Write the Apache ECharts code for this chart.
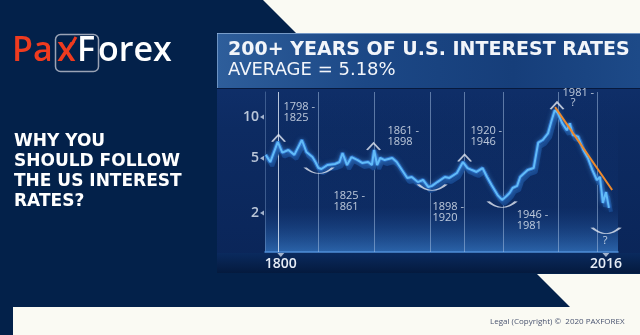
<!DOCTYPE html>
<html><head><meta charset="utf-8">
<script src="https://cdn.jsdelivr.net/npm/echarts@6/dist/echarts.min.js"></script>
<style>html,body{margin:0;padding:0;background:#03214a;}#c{width:640px;height:335px;}</style>
</head><body><div id="c"></div>
<script>
// ---- data ----
const years = [1790,1793,1798,1801,1805,1809,1814,1817,1821,1823,1825,1827,1831,1836,1839,1841,1844,1847,1851,1854,1858,1860.5,1862,1864,1866,1869,1874,1877,1880.5,1884,1887,1891,1894.5,1898,1900.5,1904,1909,1912,1917,1921,1924,1927,1930,1934,1937,1940,1944,1947,1950,1952,1954,1957,1959,1964,1968,1971,1974,1977.5,1980,1982,1984,1987,1990,1992,1994,1997.5,2001,2004,2007,2010,2012,2014,2016,2018];
const rates = [5.3,4.7,6.6,5.5,5.75,5.3,6.8,5.56,5.11,4.7,4.25,4.18,4.47,4.55,4.7,5.47,4.47,5.11,4.86,4.63,4.7,4.47,5.75,4.47,5.03,4.86,5.03,4.7,4.11,3.6,3.66,3.36,3.48,3.09,3.15,3.36,3.66,3.6,3.91,4.7,4.25,4.11,3.98,4.25,3.66,3.2,2.7,2.49,2.66,2.8,3.04,3.15,3.66,4.11,4.25,6.5,6.8,7.6,9.5,11.2,10.7,9.0,8.0,9.0,7.4,7.2,5.75,5.03,4.11,3.48,3.66,2.37,2.84,2.18];
const trendYears = [1982.2, 2020.1];
const trendRates = [11.8, 2.94];
const periodBoundaries = [1798, 1825, 1862, 1899, 1922, 1948, 1984, 2010];
const xTickLabels = [1800, 2016];
const yTickLabels = [10, 5, 2];
const periodLabels = ['1798 -\n1825', '1825 -\n1861', '1861 -\n1898', '1898 -\n1920', '1920 -\n1946', '1946 -\n1981', '1981 -'];
const periodLabelYears = [1802.1, 1835.3, 1871.2, 1901.1, 1926.4, 1957.0, 1987.5];
const periodLabelRates = [12.6, 2.84, 8.46, 2.37, 8.46, 2.07, 16.0];
const peakYears = [1798.5, 1861.6, 1922.1, 1983.5];
const peakRates = [7.0, 6.1, 5.03, 12.1];
const troughYears = [1825.4, 1900.5, 1947, 2016.1];
const troughRates = [4.08, 3.07, 2.31, 1.49];
const questionYears = [1994.2, 2015.4];
const questionRates = [12.75, 1.25];

const X_MIN = 1789.5, X_MAX = 2024, Y_MIN = 1.04, Y_MAX = 15.21;

const lineData = years.map((y, i) => [y, rates[i]]);
const txt = '#e6edf6';

const chart = echarts.init(document.getElementById('c'), null, {renderer: 'canvas'});
chart.setOption({
  backgroundColor: '#03214a',
  animation: false,
  grid: {
    left: 265, right: 22, top: 92, bottom: 83, show: true, borderWidth: 0,
    backgroundColor: {type: 'linear', x: 0, y: 0, x2: 0, y2: 1, colorStops: [
      {offset: 0, color: 'rgba(20,60,130,0)'},
      {offset: 0.72, color: 'rgba(30,80,160,0.10)'},
      {offset: 1, color: 'rgba(70,150,235,0.55)'}]}
  },
  xAxis: {
    type: 'value', min: X_MIN, max: X_MAX,
    axisLine: {show: true, lineStyle: {color: '#4f8fd8', width: 1.5}},
    axisTick: {show: false},
    splitLine: {show: false},
    axisLabel: {customValues: xTickLabels, formatter: v => String(v), color: txt, fontSize: 14,
      fontFamily: 'Open Sans', fontWeight: 600, margin: 5}
  },
  yAxis: {
    type: 'log', logBase: 10, min: Y_MIN, max: Y_MAX,
    axisLine: {show: true, lineStyle: {color: 'rgba(150,180,220,0.35)', width: 1}},
    axisTick: {show: false}, axisLabel: {show: false}, splitLine: {show: false}
  },
  series: [
    {
      type: 'line', data: lineData, symbol: 'none', silent: true, z: 3,
      lineStyle: {color: '#1f5bb3', width: 4, shadowColor: '#17468c', shadowBlur: 0, shadowOffsetX: 2, shadowOffsetY: 4},
      markLine: {
        z: 1, silent: true, symbol: 'none', label: {show: false},
        lineStyle: {type: 'solid', color: 'rgba(170,195,230,0.5)', width: 1},
        data: periodBoundaries.map((b, i) => ({xAxis: b,
          lineStyle: i === 0 ? {color: 'rgba(225,235,250,0.8)', width: 1, type: 'solid'} : undefined}))
      }
    },
    {
      type: 'line', data: lineData, symbol: 'none', silent: true, z: 4,
      lineStyle: {color: '#62bbf8', width: 2, shadowColor: 'rgba(90,180,255,0.7)', shadowBlur: 5}
    },
    {
      type: 'line', data: trendYears.map((y, i) => [y, trendRates[i]]), symbol: 'none', silent: true, z: 5,
      lineStyle: {color: '#ee8a2c', width: 2}
    },
    {
      type: 'scatter', clip: false, silent: true, z: 6,
      data: peakYears.map((y, i) => [y, peakRates[i]]),
      symbol: 'path://M0,10 L10,0 L20,10', symbolSize: [13, 7],
      itemStyle: {color: 'rgba(0,0,0,0)', borderColor: '#e3e9f2', borderWidth: 1.6}
    },
    {
      type: 'scatter', clip: false, silent: true, z: 6,
      data: troughYears.map((y, i) => [y, troughRates[i]]),
      symbol: 'path://M0,0 Q20,12 40,0', symbolSize: [28, 6],
      itemStyle: {color: 'rgba(0,0,0,0)', borderColor: '#e3e9f2', borderWidth: 1.6}
    },
    {
      type: 'scatter', clip: false, silent: true, z: 7,
      data: periodLabels.map((t, i) => ({value: [periodLabelYears[i], periodLabelRates[i]], name: t})),
      symbolSize: 1, itemStyle: {color: 'rgba(0,0,0,0)'},
      label: {show: true, position: [0, -1], align: 'left', verticalAlign: 'top', formatter: '{b}',
        color: txt, fontSize: 11, lineHeight: 11, fontFamily: 'Open Sans'}
    },
    {
      type: 'scatter', clip: false, silent: true, z: 7,
      data: questionYears.map((y, i) => [y, questionRates[i]]),
      symbolSize: 1, itemStyle: {color: 'rgba(0,0,0,0)'},
      label: {show: true, position: 'inside', formatter: '?', color: txt, fontSize: 11, fontFamily: 'Open Sans'}
    },
    {
      type: 'scatter', clip: false, silent: true, z: 7,
      data: yTickLabels.map(v => [X_MIN, v]),
      symbol: 'triangle', symbolRotate: 90, symbolSize: [5, 4], symbolOffset: [-3, 0],
      itemStyle: {color: '#c9d6e8'},
      label: {show: true, position: 'left', distance: 1, formatter: p => String(p.value[1]),
        color: txt, fontSize: 14, fontFamily: 'Open Sans', fontWeight: 600}
    },
    {
      type: 'scatter', clip: false, silent: true, z: 7,
      data: xTickLabels.map(v => [v, Y_MIN]),
      symbol: 'triangle', symbolRotate: 180, symbolSize: [7, 4], symbolOffset: [0, 3],
      itemStyle: {color: '#c9d6e8'}
    }
  ],
  graphic: [
    {type: 'polygon', z: -10, shape: {points: [[263,0],[640,0],[640,33],[296,33]]}, style: {fill: '#fafaf3'}},
    {type: 'rect', z: -10, shape: {x: 217, y: 33, width: 423, height: 240},
      style: {fill: {type: 'linear', x: 0, y: 0, x2: 0, y2: 1, colorStops: [
        {offset: 0, color: '#123371'}, {offset: 0.4, color: '#0d2b62'}, {offset: 1, color: '#0a2558'}]}}},
    {type: 'rect', z: -9, shape: {x: 217, y: 253, width: 423, height: 20},
      style: {fill: {type: 'linear', x: 0, y: 0, x2: 0, y2: 1, colorStops: [
        {offset: 0, color: '#0a2a5e'}, {offset: 1, color: '#041a3e'}]}}},
    {type: 'rect', z: -9, shape: {x: 217, y: 33, width: 423, height: 55},
      style: {fill: {type: 'linear', x: 0, y: 0, x2: 1, y2: 0, colorStops: [
        {offset: 0, color: '#2e5e9b'}, {offset: 0.35, color: '#1c4886'}, {offset: 0.7, color: '#163e7a'}, {offset: 1, color: '#1d4a88'}]}}},
    {type: 'line', z: -8, shape: {x1: 217, y1: 33.5, x2: 640, y2: 33.5}, style: {stroke: 'rgba(170,200,235,0.6)', lineWidth: 1}},
    {type: 'line', z: -8, shape: {x1: 217.5, y1: 33, x2: 217.5, y2: 88}, style: {stroke: 'rgba(170,200,235,0.5)', lineWidth: 1}},
    {type: 'line', z: -8, shape: {x1: 217, y1: 88.5, x2: 640, y2: 88.5}, style: {stroke: 'rgba(5,20,50,0.8)', lineWidth: 1}},
    {type: 'polygon', z: -7, shape: {points: [[537,274],[640,274],[640,335],[13,335],[13,307],[570,307]]}, style: {fill: '#fafaf3'}},
    // logo
    {type: 'rect', z: 10, shape: {x: 55.5, y: 34.5, width: 43, height: 37, r: 5}, style: {fill: 'none', stroke: '#9aa3b5', lineWidth: 1.5}},
    {type: 'text', z: 11, x: 12, y: 51, style: {text: 'Pa', fill: '#ef3b1f', font: '600 34px "Open Sans"', verticalAlign: 'middle'}},
    {type: 'text', z: 11, x: 57, y: 51, style: {text: 'x', fill: '#ef3b1f', font: '600 34px "Open Sans"', verticalAlign: 'middle'}},
    {type: 'line', z: 11, shape: {x1: 72, y1: 44, x2: 76, y2: 37}, style: {stroke: '#ef3b1f', lineWidth: 3}},
    {type: 'text', z: 11, x: 77, y: 51, style: {text: 'F', fill: '#ffffff', font: '600 34px "Open Sans"', verticalAlign: 'middle'}},
    {type: 'text', z: 11, x: 98, y: 51, style: {text: 'orex', fill: '#ffffff', font: '600 34px "Open Sans"', verticalAlign: 'middle'}},
    // heading
    {type: 'text', z: 11, x: 14, y: 132, style: {text: 'WHY YOU\nSHOULD FOLLOW\nTHE US INTEREST\nRATES?', fill: '#ffffff',
      font: 'bold 17px "DejaVu Sans"', lineHeight: 20, verticalAlign: 'top'}},
    // chart title
    {type: 'text', z: 11, x: 228, y: 50, style: {text: '200+ YEARS OF U.S. INTEREST RATES', fill: '#f2f5fa',
      font: 'bold 19px "DejaVu Sans"', verticalAlign: 'middle'}},
    {type: 'text', z: 11, x: 228, y: 70, style: {text: 'AVERAGE = 5.18%', fill: '#f2f5fa',
      font: '18px "DejaVu Sans"', verticalAlign: 'middle'}},
    {type: 'text', z: 11, x: 490, y: 322, style: {text: 'Legal (Copyright) \u00A9  2020 PAXFOREX', fill: '#4a5470',
      font: '8px "Open Sans"', verticalAlign: 'middle'}}
  ]
});
</script></body></html>
